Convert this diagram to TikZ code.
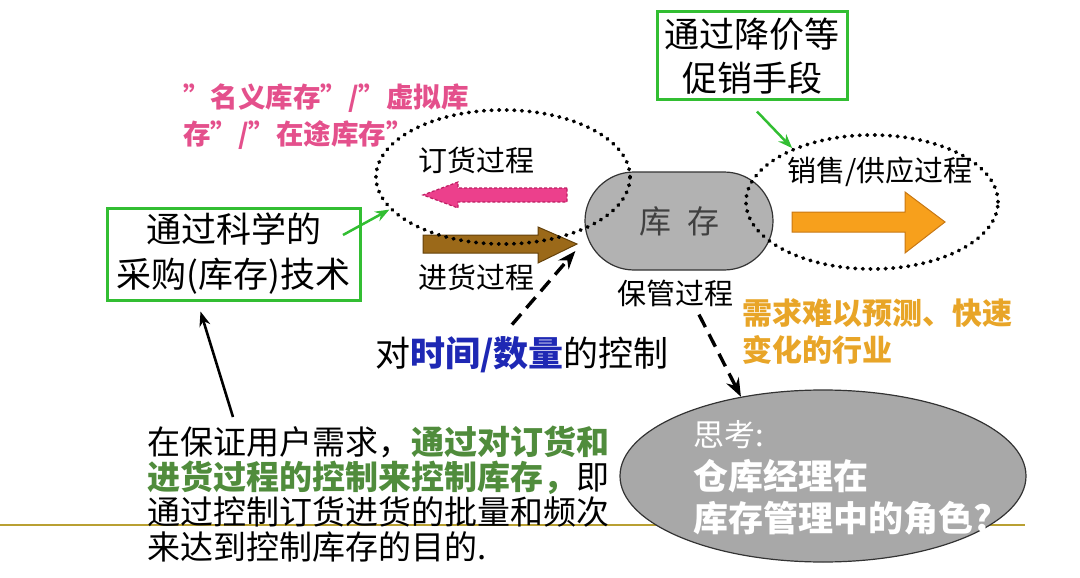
\documentclass[tikz,border=0pt]{standalone}
\usepackage{fontspec}
\setmainfont{Noto Sans CJK SC}
\usepackage{xcolor}
\usetikzlibrary{arrows.meta,positioning,shapes.geometric}
\definecolor{boxgreen}{RGB}{50,190,50}
\definecolor{pinkc}{RGB}{236,64,140}
\definecolor{pinkedge}{RGB}{190,30,100}
\definecolor{pinktext}{RGB}{228,80,140}
\definecolor{browncol}{RGB}{155,105,25}
\definecolor{brownedge}{RGB}{100,65,10}
\definecolor{orangec}{RGB}{247,160,28}
\definecolor{orangeedge}{RGB}{200,120,20}
\definecolor{goldtext}{RGB}{232,165,40}
\definecolor{bluetext}{RGB}{30,40,180}
\definecolor{greentext}{RGB}{80,140,60}
\definecolor{linecol}{RGB}{185,160,50}
\definecolor{stockgray}{RGB}{178,178,178}
\definecolor{thinkgray}{RGB}{168,168,168}

\begin{document}
\begin{tikzpicture}[x=1pt, y=-1pt, >=Stealth,
  greenbox/.style={draw=boxgreen, line width=3pt, align=center, inner sep=0pt},
  proclabel/.style={font=\fontsize{29}{31}\selectfont, inner sep=0pt},
  dotring/.style={ellipse, draw, line width=3.8pt, line cap=round, dash pattern=on 0.6pt off 7pt, inner sep=0pt},
  dashline/.style={->, line width=3.4pt, dash pattern=on 14pt off 8pt}]
\useasboundingbox (0,0) rectangle (1080,578);
\draw[linecol, line width=2.5pt] (0,525) -- (1025,525);

\node[greenbox, minimum width=253, minimum height=92, font=\fontsize{35}{45}\selectfont] (techbox) at (233.5,254) {通过科学的\\采购(库存)技术};
\node[greenbox, minimum width=190, minimum height=88, font=\fontsize{35}{44}\selectfont] (promobox) at (752,56) {通过降价等\\促销手段};
\node[anchor=west, align=left, text=pinktext, inner sep=0pt, font=\bfseries\fontsize{27.5}{37}\selectfont] (virtnote) at (183,116.5) {”名义库存”/”虚拟库\\存”/”在途库存”};

\node[draw=black!80, line width=1.2pt, fill=stockgray, rounded corners=49pt, minimum width=188, minimum height=98, text=black!75, font=\fontsize{32}{32}\selectfont] (stock) at (679,221) {库\hspace{0.5em}存};

\draw[pinkedge, fill=pinkc, densely dashed, line width=1.2pt] (567,188) -- (458,188) -- (458,182) -- (423,195) -- (458,208) -- (458,202) -- (567,202) -- cycle;
\draw[brownedge, fill=browncol, line width=1pt] (423,235) -- (538,235) -- (538,227) -- (577,244) -- (538,263) -- (538,253) -- (423,253) -- cycle;
\draw[orangeedge, fill=orangec, line width=1pt] (792,212) -- (905,212) -- (905,192) -- (945,222) -- (905,253) -- (905,232) -- (792,232) -- cycle;

\node[dotring, minimum width=254, minimum height=134] (orderring) at (503,177) {};
\node[dotring, minimum width=252, minimum height=134] (salering) at (872,202) {};

\node[proclabel] (orderlabel) at (476,160) {订货过程};
\node[proclabel] (inlabel) at (476,277) {进货过程};
\node[proclabel] (keeplabel) at (675,293) {保管过程};
\node[proclabel] (salelabel) at (880,172) {销售/供应过程};

\node[inner sep=0pt, font=\fontsize{35}{37}\selectfont] (ctrlnote) at (522,355) {对\textcolor{bluetext}{\bfseries 时间/数量}的控制};
\node[anchor=west, align=left, text=goldtext, inner sep=0pt, font=\bfseries\fontsize{30}{37}\selectfont] (hardnote) at (742,331.5) {需求难以预测、快速\\变化的行业};

\node[ellipse, draw=black!80, line width=1.2pt, fill=thinkgray, minimum width=406, minimum height=172] (think) at (823,476) {};
\node[anchor=west, text=white, inner sep=0pt, font=\fontsize{31}{33}\selectfont] (thinkhead) at (693,435) {思考:};
\node[anchor=west, align=left, text=white, inner sep=0pt, font=\bfseries\fontsize{35}{42}\selectfont] (thinkbody) at (693,497.5) {仓库经理在\\库存管理中的角色?};

\node[anchor=north west, align=left, inner sep=0pt, font=\fontsize{33}{35}\selectfont] (goalnote) at (147,426) {在保证用户需求，\textcolor{greentext}{\bfseries 通过对订货和}\\\textcolor{greentext}{\bfseries 进货过程的控制来控制库存，}即\\通过控制订货进货的批量和频次\\来达到控制库存的目的.};

\coordinate (techtip) at (343,235);
\draw[->, boxgreen, line width=2.5pt] (techtip) -- (orderring.196);
\draw[->, boxgreen, line width=2.5pt] ([xshift=5pt,yshift=-10pt]promobox.south) -- (salering.146);
\draw[->, line width=2.6pt] ([xshift=86pt,yshift=9pt]goalnote.north west) -- ([xshift=-33pt,yshift=-10pt]techbox.south);
\draw[dashline] ([xshift=-10pt,yshift=12pt]ctrlnote.north) -- ([xshift=-9pt,yshift=-30pt]stock.west);
\draw[dashline] ([xshift=24pt,yshift=-8pt]keeplabel.south) -- (think.136);
\end{tikzpicture}
\end{document}
